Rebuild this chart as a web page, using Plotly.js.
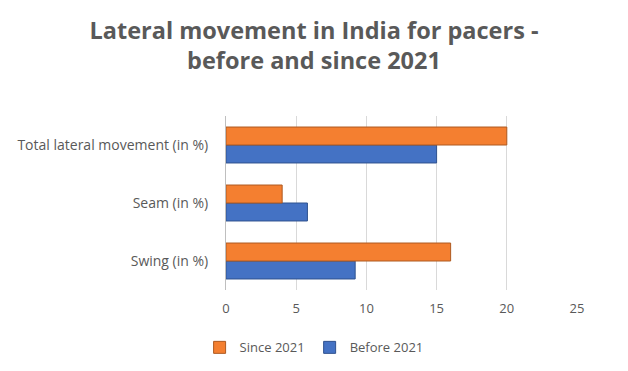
<!DOCTYPE html>
<html>
<head>
<meta charset="utf-8">
<script src="https://cdn.plot.ly/plotly-3.0.1.min.js"></script>
<style>html,body{margin:0;padding:0;background:#fff;}#chart{width:628px;height:371px;}</style>
</head>
<body>
<div id="chart"></div>
<script>
var categories = ["Swing (in %)", "Seam (in %)", "Total lateral movement (in %)"];
var before2021 = [9.2, 5.8, 15];
var since2021 = [16, 4, 20];
var seriesNames = ["Before 2021", "Since 2021"];
var xTicks = [0, 5, 10, 15, 20, 25];

var gray = "#595959";
var traces = [
  {type: "bar", orientation: "h", name: seriesNames[0], y: categories, x: before2021,
   marker: {color: "#4472C4", line: {color: "#2F528F", width: 1}}, hoverinfo: "x"},
  {type: "bar", orientation: "h", name: seriesNames[1], y: categories, x: since2021,
   marker: {color: "#F47F30", line: {color: "#AE5A21", width: 1}}, hoverinfo: "x"}
];

var layout = {
  width: 628, height: 371,
  margin: {l: 226, r: 51, t: 116, b: 81, autoexpand: false},
  paper_bgcolor: "#fff", plot_bgcolor: "#fff",
  font: {family: "Open Sans, Liberation Sans, sans-serif", color: gray, size: 12},
  title: {text: "Lateral movement in India for pacers -<br>before and since 2021",
          font: {family: "Open Sans, sans-serif", size: 23.5, color: gray, weight: "bold"},
          x: 0.5, xanchor: "center", y: 0.896, yanchor: "top"},
  barmode: "group", bargap: 0.38, bargroupgap: 0,
  xaxis: {range: [0, 25], tickvals: xTicks, showgrid: true, gridcolor: "#D9D9D9", gridwidth: 1,
          zeroline: false, showline: false, ticks: "outside", ticklen: 6, tickcolor: "rgba(0,0,0,0)",
          tickfont: {size: 13, color: gray}, fixedrange: true, automargin: false},
  yaxis: {showgrid: false, zeroline: false, showline: true, linecolor: "#BFBFBF",
          ticks: "outside", ticklen: 14, tickcolor: "rgba(0,0,0,0)",
          tickfont: {size: 14, color: gray}, fixedrange: true, automargin: false},
  showlegend: true,
  legend: {orientation: "h", traceorder: "reversed", x: 0.251, xanchor: "center",
           y: -0.33, yanchor: "middle", font: {size: 13, color: gray}},
};

Plotly.newPlot("chart", traces, layout, {displayModeBar: false, staticPlot: true});
</script>
</body>
</html>
